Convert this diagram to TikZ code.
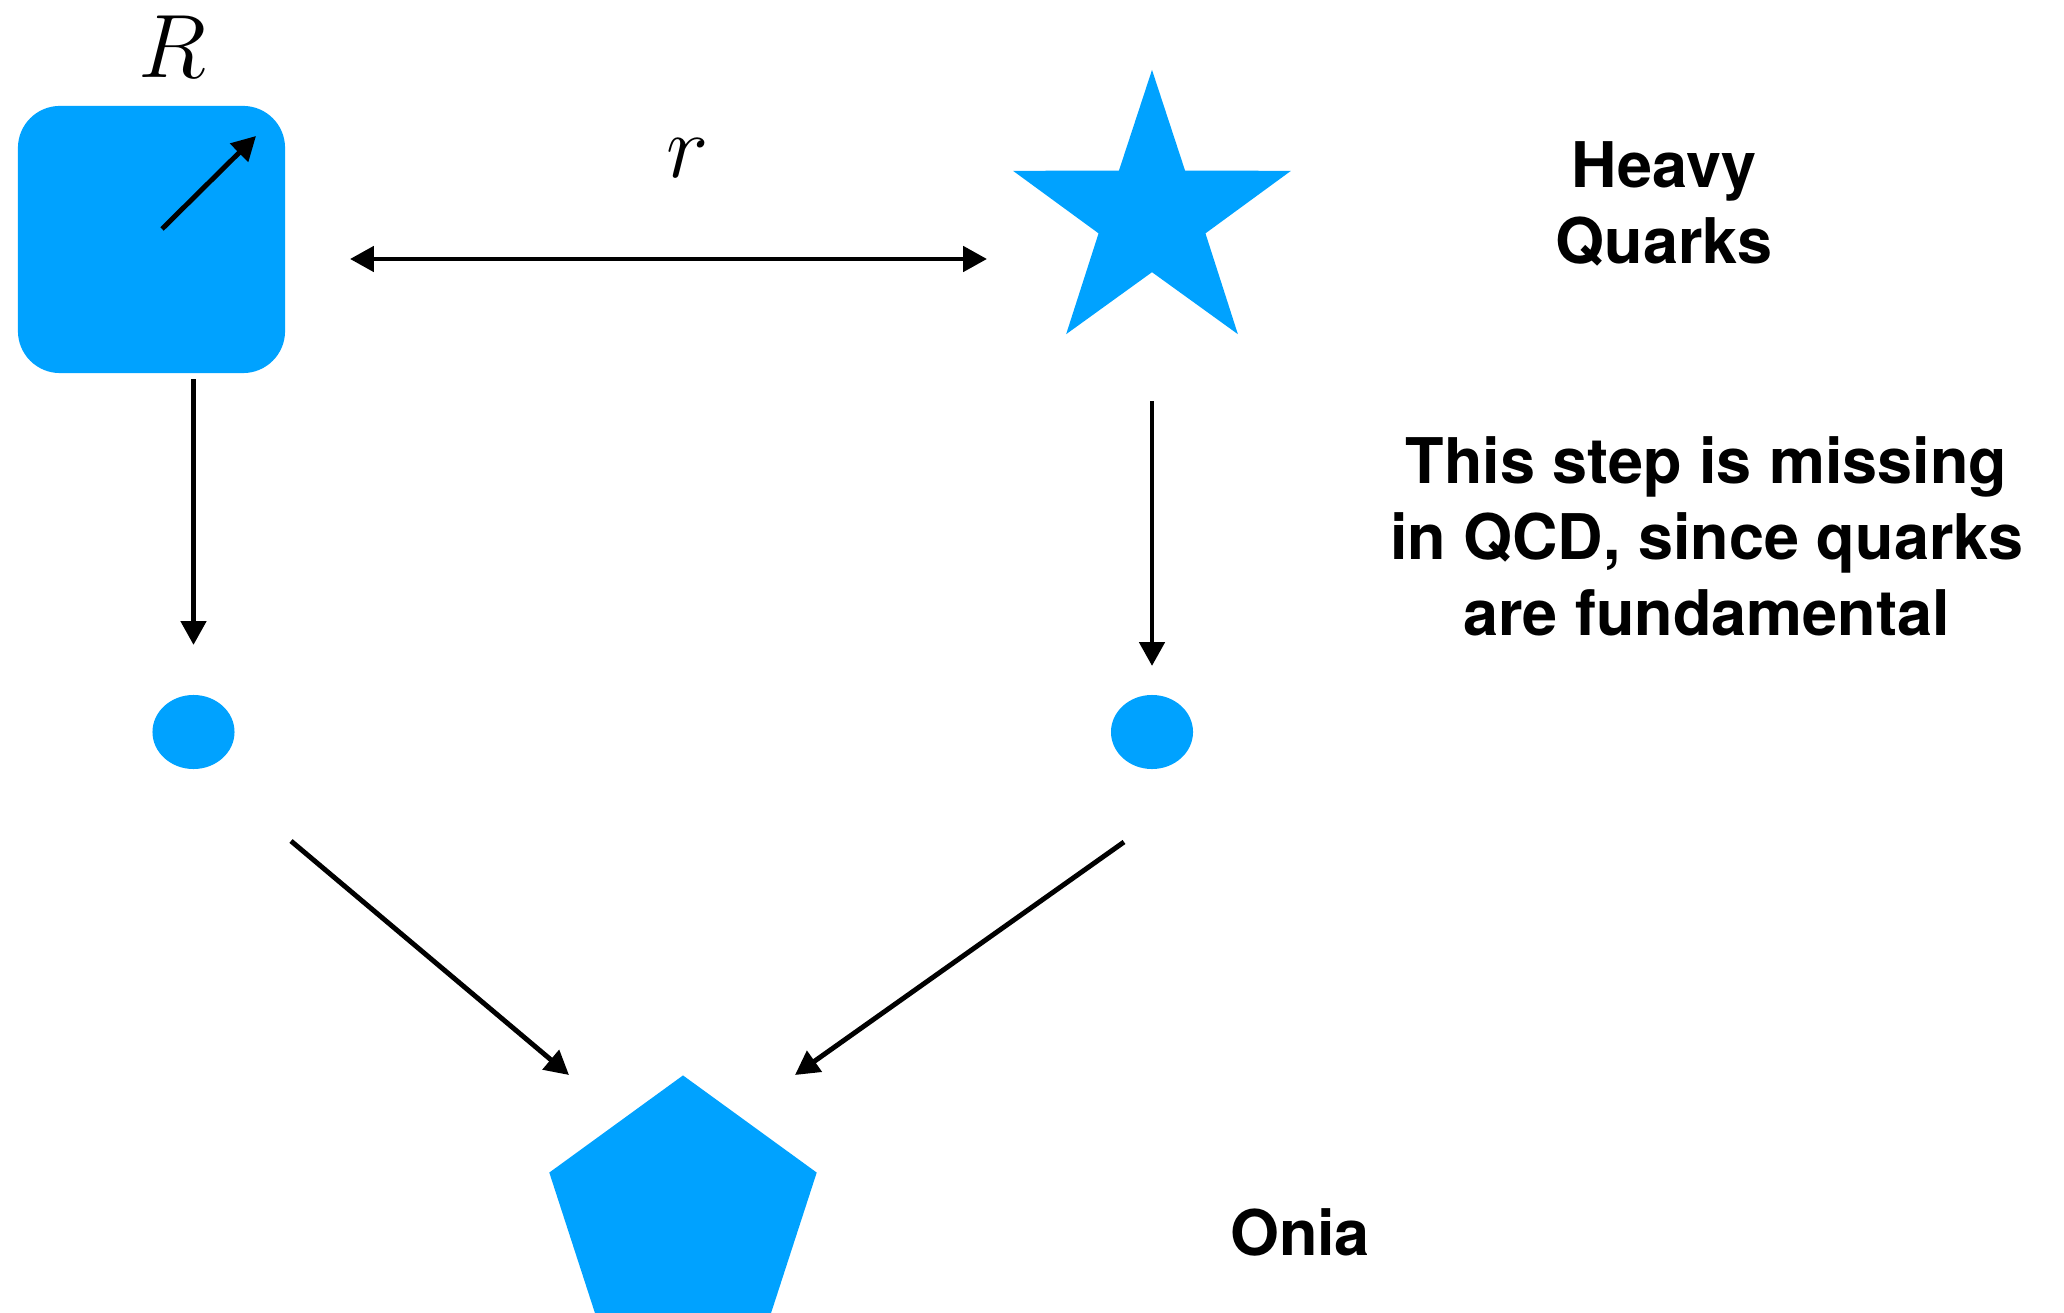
\RequirePackage{fix-cm}
\documentclass[tikz,border=0pt]{standalone}
\usepackage{fontspec}
\newfontfamily\labelfont{TeX Gyre Heros}
\usetikzlibrary{arrows.meta,shapes.geometric,calc}
\definecolor{quarkblue}{RGB}{0,162,255}
\begin{document}
\begin{tikzpicture}[x=0.01cm, y=-0.01cm, >={Triangle[length=6.8pt,width=7.1pt]},
	line width=1.4pt, line join=round,
	blob/.style={fill=quarkblue, draw=none, inner sep=0pt},
	txt/.style={font=\labelfont\bfseries\fontsize{17.9}{21.6}\selectfont, align=center, inner sep=0pt},
	sym/.style={font=\fontsize{25.6}{30}\selectfont, inner sep=0pt}]
	\useasboundingbox (0,0) rectangle (2064,1313);
	\clip (0,0) rectangle (2064,1313);
	% shapes
	\node[blob, rounded corners=0.42cm, minimum size=2.67cm] (sq) at (151.5,239.5) {};
	\node[blob, star, star points=5, star point ratio=2.6, minimum size=2.92cm] (qq) at (1152,216) {};
	\node[blob, ellipse, minimum width=0.82cm, minimum height=0.74cm] (dotL) at (193.5,732) {};
	\node[blob, ellipse, minimum width=0.82cm, minimum height=0.74cm] (dotR) at (1152,732) {};
	\node[blob, regular polygon, regular polygon sides=5, minimum size=2.81cm] (onia) at (683,1216) {};
	% labels
	\node[sym] (lR) at (172,47) {$R$};
	\node[sym] (lr) at (688,158) {$r$};
	\node[txt, anchor=north] (lhq) at (1664,139) {Heavy\\Quarks};
	\node[txt, anchor=north] (lmiss) at (1706.5,434) {This step is missing\\in QCD, since quarks\\are fundamental};
	\node[txt, anchor=base] (lonia) at (1300,1255) {Onia};
	% arrow ends
	\coordinate (hqL) at (350,259);
	\coordinate (hqR) at (987,259);
	\coordinate (dL1) at (291,841);
	\coordinate (dL2) at (569,1075);
	\coordinate (dR1) at (1124,842);
	\coordinate (dR2) at (795,1075);
	% arrows
	\draw[->] ($(sq.center)+(10.5,-10.5)$) -- ($(sq.center)+(104.5,-103.5)$);
	\draw[<->] (hqL) -- (hqR);
	\draw[->, shorten <=1.395cm, shorten >=0.87cm] (dotL |- sq.center) -- (dotL.center);
	\draw[->, shorten <=1.85cm, shorten >=0.66cm] (qq.center) -- (dotR.center);
	\draw[->] (dL1) -- (dL2);
	\draw[->] (dR1) -- (dR2);
\end{tikzpicture}
\end{document}
